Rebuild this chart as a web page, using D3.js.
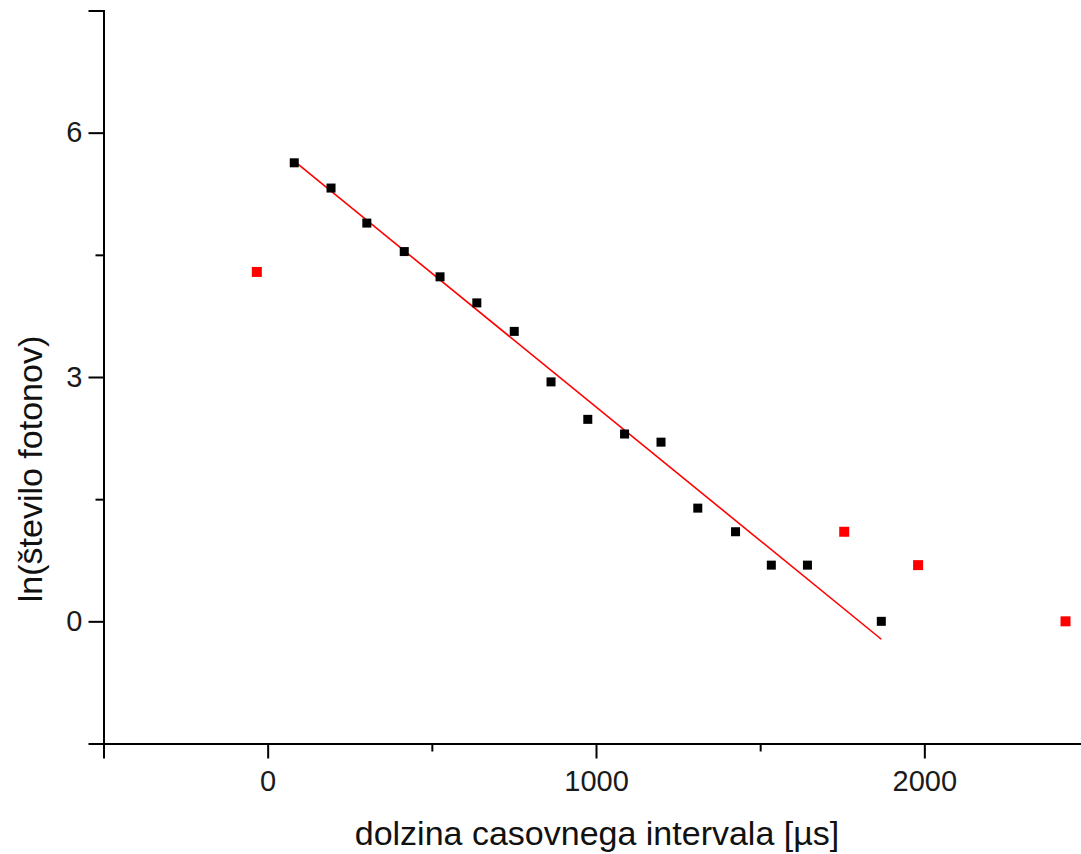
<!DOCTYPE html>
<html>
<head>
<meta charset="utf-8">
<script src="https://cdn.jsdelivr.net/npm/d3@7"></script>
<style>
  html, body { margin: 0; padding: 0; background: #fff; }
  svg { display: block; font-family: "Liberation Sans", Arial, sans-serif; }
</style>
</head>
<body>
<svg id="chart" width="1081" height="854"></svg>
<script>
// Measured points (x in microseconds, y = ln of photon count).
var fitX = [81, 193, 302, 416, 525, 637, 751, 863, 975, 1087, 1198, 1310, 1425, 1534, 1644, 1869];
var fitY = [5.63, 5.32, 4.89, 4.54, 4.23, 3.91, 3.56, 2.94, 2.48, 2.30, 2.20, 1.39, 1.10, 0.69, 0.69, 0.00];

// Points left out of the fit (drawn in red).
var outX = [-33, 1756, 1981, 2430];
var outY = [4.29, 1.10, 0.69, 0.00];

// End points of the fitted line.
var lineX = [81, 1869];
var lineY = [5.65, -0.22];

// Tick values.
var xMajor = [0, 1000, 2000];
var xMinor = [-500, 500, 1500, 2500];
var yMajor = [0, 3, 6];
var yMinor = [-1.5, 1.5, 4.5, 7.5];

var svg = d3.select("#chart");

var x = d3.scaleLinear().domain([-500, 2500]).range([103.5, 1088.5]);
var y = d3.scaleLinear().domain([-1.5, 7.5]).range([743.5, 10.5]);

// Minor ticks first (no labels).
svg.append("g")
  .attr("transform", "translate(0," + y(-1.5) + ")")
  .call(d3.axisBottom(x).tickValues(xMinor).tickSize(8).tickFormat(""))
  .call(styleAxis);

svg.append("g")
  .attr("transform", "translate(" + x(-500) + ",0)")
  .call(d3.axisLeft(y).tickValues(yMinor).tickSize(8).tickFormat(""))
  .call(styleAxis);

// Major ticks with labels.
svg.append("g")
  .attr("transform", "translate(0," + y(-1.5) + ")")
  .call(d3.axisBottom(x).tickValues(xMajor).tickSize(15).tickPadding(12).tickFormat(d3.format("d")))
  .call(styleAxis);

svg.append("g")
  .attr("transform", "translate(" + x(-500) + ",0)")
  .call(d3.axisLeft(y).tickValues(yMajor).tickSize(15).tickPadding(6).tickFormat(d3.format("d")))
  .call(styleAxis);

function styleAxis(g) {
  g.select(".domain").attr("stroke", "#000").attr("stroke-width", 2);
  g.selectAll(".tick line").attr("stroke", "#000").attr("stroke-width", 2);
  g.selectAll(".tick text")
    .attr("fill", "#1a1a1a")
    .style("font-size", "29px")
    .style("font-family", "'Liberation Sans', Arial, sans-serif");
}

// Axis titles.
svg.append("text")
  .attr("x", 597)
  .attr("y", 845)
  .attr("text-anchor", "middle")
  .attr("fill", "#111")
  .style("font-size", "34px")
  .text("dolzina casovnega intervala [\u00b5s]");

svg.append("text")
  .attr("transform", "translate(42,469) rotate(-90)")
  .attr("text-anchor", "middle")
  .attr("fill", "#111")
  .style("font-size", "34px")
  .text("ln(število fotonov)");

// Fitted line.
svg.append("line")
  .attr("x1", x(lineX[0])).attr("y1", y(lineY[0]))
  .attr("x2", x(lineX[1])).attr("y2", y(lineY[1]))
  .attr("stroke", "#ff0000")
  .attr("stroke-width", 1.6);

// Square markers.
var fitPts = fitX.map(function (d, i) { return [d, fitY[i]]; });
var outPts = outX.map(function (d, i) { return [d, outY[i]]; });

svg.append("g").selectAll("rect")
  .data(fitPts)
  .join("rect")
  .attr("x", function (d) { return x(d[0]) - 4.5; })
  .attr("y", function (d) { return y(d[1]) - 4.5; })
  .attr("width", 9)
  .attr("height", 9)
  .attr("fill", "#000");

svg.append("g").selectAll("rect")
  .data(outPts)
  .join("rect")
  .attr("x", function (d) { return x(d[0]) - 5; })
  .attr("y", function (d) { return y(d[1]) - 5; })
  .attr("width", 10)
  .attr("height", 10)
  .attr("fill", "#ff0000");
</script>
</body>
</html>
